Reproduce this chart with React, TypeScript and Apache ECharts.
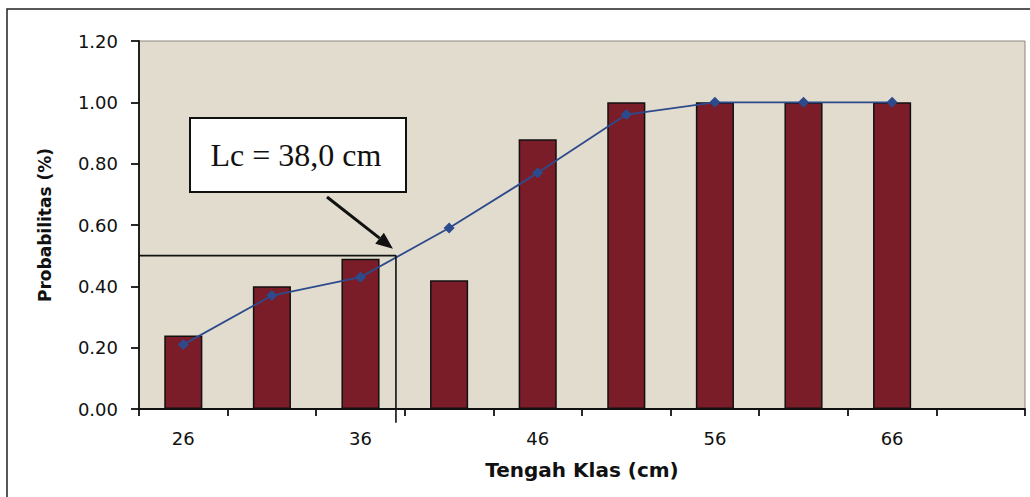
import React, { useEffect, useRef } from "react";
import * as echarts from "echarts";

const categories = ["26", "31", "36", "41", "46", "51", "56", "61", "66", "71"];
const barValues = [0.24, 0.40, 0.49, 0.42, 0.88, 1.0, 1.0, 1.0, 1.0, null];
const lineValues = [0.21, 0.37, 0.43, 0.59, 0.77, 0.96, 1.0, 1.0, 1.0, null];
const lcValue = 38.0;
const lcProb = 0.5;
const lcLabel = "Lc = 38,0 cm";

export default function App() {
  const ref = useRef<HTMLDivElement>(null);
  useEffect(() => {
    document.body.style.margin = "0";
    const chart = echarts.init(ref.current!, null, { renderer: "svg" });
    const font = "'DejaVu Sans', Verdana, sans-serif";
    chart.setOption({
      animation: false,
      backgroundColor: "#ffffff",
      grid: {
        left: 139,
        top: 41,
        right: 5,
        bottom: 88,
        show: true,
        backgroundColor: "#e2dccf",
        borderColor: "#8a877f",
        borderWidth: 1,
      },
      xAxis: [
        {
          type: "category",
          data: categories,
          boundaryGap: true,
          axisLine: { lineStyle: { color: "#111", width: 1.8 } },
          axisTick: { show: true, interval: 0, length: 7, lineStyle: { color: "#111", width: 1.8 } },
          axisLabel: { interval: 1, color: "#111", fontSize: 18, fontFamily: font, margin: 20 },
          name: "Tengah Klas (cm)",
          nameLocation: "middle",
          nameGap: 51,
          nameTextStyle: { fontSize: 20, fontWeight: "bold", color: "#111", fontFamily: font },
        },
        {
          type: "value",
          min: 23.5,
          max: 73.5,
          show: false,
        },
      ],
      yAxis: {
        type: "value",
        min: 0,
        max: 1.2,
        interval: 0.2,
        axisLine: { show: true, lineStyle: { color: "#111", width: 1.8 } },
        axisTick: { show: true, length: 8, lineStyle: { color: "#111", width: 1.8 } },
        splitLine: { show: false },
        axisLabel: {
          color: "#111",
          fontSize: 18,
          fontFamily: font,
          margin: 21,
          formatter: (v: number) => v.toFixed(2),
        },
        name: "Probabilitas (%)",
        nameLocation: "middle",
        nameGap: 86,
        nameTextStyle: { fontSize: 17, fontWeight: "bold", color: "#111", fontFamily: font },
      },
      series: [
        {
          type: "bar",
          data: barValues,
          barWidth: "43%",
          itemStyle: { color: "#7a1d29", borderColor: "#111", borderWidth: 1.5 },
        },
        {
          type: "line",
          data: lineValues,
          symbol: "diamond",
          symbolSize: 11,
          lineStyle: { color: "#2d4a8c", width: 1.8 },
          itemStyle: { color: "#2d4a8c" },
        },
        {
          type: "line",
          xAxisIndex: 1,
          clip: false,
          symbol: "none",
          data: [
            [23.5, lcProb],
            [lcValue, lcProb],
            [lcValue, -0.045],
          ],
          lineStyle: { color: "#111", width: 1.6 },
        },
      ],
    });

    const tip = chart.convertToPixel({ xAxisIndex: 1, yAxisIndex: 0 }, [lcValue, lcProb]) as number[];
    const tx = tip[0] - 3;
    const ty = tip[1] - 7;
    const sx = 327;
    const sy = 197;
    const dx = tx - sx;
    const dy = ty - sy;
    const len = Math.sqrt(dx * dx + dy * dy);
    const ux = dx / len;
    const uy = dy / len;
    const headL = 17;
    const headW = 7;
    const bx = tx - ux * headL;
    const by = ty - uy * headL;
    chart.setOption({
      graphic: [
        {
          type: "rect",
          shape: { x: 7, y: 9, width: 1040, height: 520 },
          style: { fill: "none", stroke: "#222", lineWidth: 1.5 },
          silent: true,
        },
        {
          type: "line",
          shape: { x1: sx, y1: sy, x2: bx, y2: by },
          style: { stroke: "#111", lineWidth: 3 },
          z: 100,
        },
        {
          type: "polygon",
          shape: {
            points: [
              [tx, ty],
              [bx - uy * headW, by + ux * headW],
              [bx + uy * headW, by - ux * headW],
            ],
          },
          style: { fill: "#111" },
          z: 100,
        },
        {
          type: "rect",
          shape: { x: 190, y: 118, width: 216, height: 74 },
          style: { fill: "#ffffff", stroke: "#111", lineWidth: 2 },
          z: 100,
        },
        {
          type: "text",
          x: 296,
          y: 155,
          style: {
            text: lcLabel,
            font: "32px 'Liberation Serif', 'Times New Roman', serif",
            fill: "#111",
            align: "center",
            verticalAlign: "middle",
          },
          z: 101,
        },
      ],
    });
    return () => chart.dispose();
  }, []);
  return <div ref={ref} style={{ width: 1030, height: 497 }} />;
}
